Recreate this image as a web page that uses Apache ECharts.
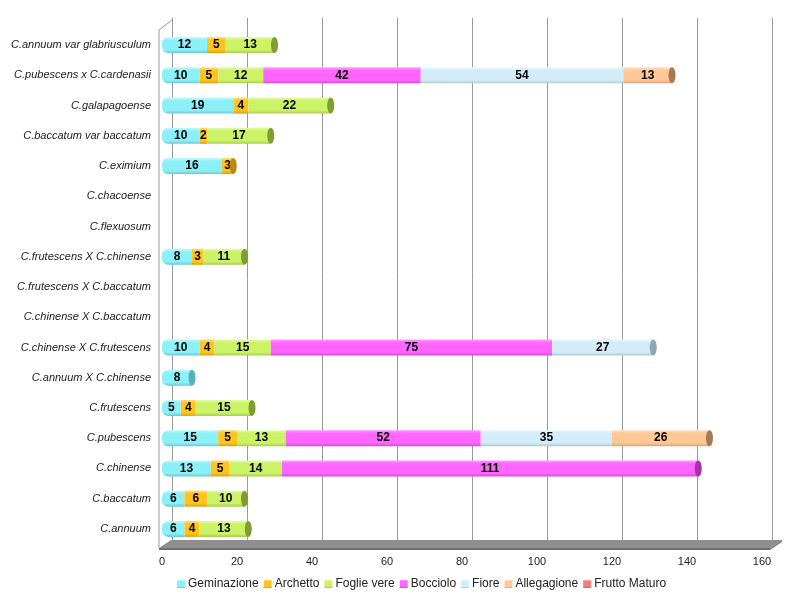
<!DOCTYPE html>
<html><head><meta charset="utf-8">
<script src="https://cdn.jsdelivr.net/npm/echarts@6/dist/echarts.min.js"></script>
<style>html,body{margin:0;padding:0;background:#fff}#c{width:789px;height:600px}</style>
</head><body><div id="c"></div>
<script>
const categories = ["C.annuum var glabriusculum","C.pubescens x C.cardenasii","C.galapagoense","C.baccatum var baccatum","C.eximium","C.chacoense","C.flexuosum","C.frutescens X C.chinense","C.frutescens X C.baccatum","C.chinense X C.baccatum","C.chinense X C.frutescens","C.annuum X C.chinense","C.frutescens","C.pubescens","C.chinense","C.baccatum","C.annuum"];
const seriesNames = ["Geminazione","Archetto","Foglie vere","Bocciolo","Fiore","Allegagione","Frutto Maturo"];
const geminazione = [12,10,19,10,16,null,null,8,null,null,10,8,5,15,13,6,6];
const archetto    = [5,5,4,2,3,null,null,3,null,null,4,null,4,5,5,6,4];
const foglieVere  = [13,12,22,17,null,null,null,11,null,null,15,null,15,13,14,10,13];
const bocciolo    = [null,42,null,null,null,null,null,null,null,null,75,null,null,52,111,null,null];
const fiore       = [null,54,null,null,null,null,null,null,null,null,27,null,null,35,null,null,null];
const allegagione = [null,13,null,null,null,null,null,null,null,null,null,null,null,26,null,null,null];
const fruttoMaturo= [null,null,null,null,null,null,null,null,null,null,null,null,null,null,null,null,null];
const xTicks = [0,20,40,60,80,100,120,140,160];

const allData = [geminazione,archetto,foglieVere,bocciolo,fiore,allegagione,fruttoMaturo];
const base  = ['#8CF0F8','#FFC420','#CCF266','#FF66FF','#D2ECF8','#FFC896','#F08080'];
const light = ['#C0FAFF','#FFDC70','#E4FCA8','#FF9CFF','#EAF7FF','#FFE0C0','#FFB0B0'];
const dark  = ['#6CC8D2','#D8A010','#A8CC50','#D848D8','#AFC8D6','#D8A478','#C86060'];
const capC  = ['#5AB0BA','#B88A10','#7E9E34','#A830A8','#90A6B2','#A47A58','#A04040'];

const grad = i => new echarts.graphic.LinearGradient(0,0,0,1,[
  {offset:0,color:light[i]},{offset:0.2,color:base[i]},{offset:0.8,color:base[i]},{offset:1,color:dark[i]}]);

const series = allData.map((d,i)=>({
  name: seriesNames[i], type:'bar', stack:'s', barWidth:16,
  xAxisIndex:0, yAxisIndex:0,
  data: d,
  itemStyle:{color:grad(i), borderRadius: i===0?[6,0,0,6]:0},
  label:{show:true, position:'inside', color:'#000', fontWeight:'bold', fontSize:12,
    fontFamily:'"Liberation Sans",Arial,sans-serif',
    formatter:p=> (p.value==null||p.value===0)?'':String(p.value)}
}));

const capData = [];
categories.forEach((c,k)=>{
  let tot=0,last=-1;
  allData.forEach((d,i)=>{ if(d[k]){tot+=d[k];last=i;} });
  if(last>=0) capData.push([tot,k,last]);
});
series.push({
  type:'custom', xAxisIndex:0, yAxisIndex:0, silent:true, z:3,
  data: capData,
  renderItem:(params,api)=>{
    const p = api.coord([api.value(0), api.value(1)]);
    return {type:'ellipse', shape:{cx:p[0], cy:p[1], rx:3.5, ry:8},
      style:{fill:capC[api.value(2)]}};
  }
});

const chart = echarts.init(document.getElementById('c'));
chart.setOption({
  animation:false,
  backgroundColor:'#fff',
  legend:{data:seriesNames, left:172, top:573, itemWidth:8, itemHeight:8, itemGap:5,
    icon:'rect', textStyle:{fontSize:12, color:'#222', fontFamily:'"Liberation Sans",Arial,sans-serif', padding:[0,0,0,-2]}},
  grid:[
    {left:162, right:27, top:30, bottom:56},
    {left:172, right:17, top:18, bottom:59}
  ],
  xAxis:[
    {gridIndex:0, type:'value', min:0, max:160, interval:20,
     axisLine:{show:false}, axisTick:{show:false}, splitLine:{show:false},
     axisLabel:{margin:12, fontSize:11, color:'#222', fontFamily:'"Liberation Sans",Arial,sans-serif'}},
    {gridIndex:1, type:'value', min:0, max:160, interval:20,
     axisLine:{show:false}, axisTick:{show:false}, axisLabel:{show:false},
     splitLine:{show:true, lineStyle:{color:'#9a9a9a', width:1}}}
  ],
  yAxis:[
    {gridIndex:0, type:'category', data:categories, inverse:true,
     axisLine:{show:false}, axisTick:{show:false},
     axisLabel:{margin:11, fontSize:11, fontStyle:'italic', color:'#222', fontFamily:'"Liberation Sans",Arial,sans-serif'}},
    {gridIndex:1, type:'category', data:categories, show:false}
  ],
  graphic:[
    {type:'polyline', z:-1, shape:{points:[[159,548],[159,30],[172,20]]}, style:{stroke:'#9a9a9a', lineWidth:1, fill:null}},
    {type:'polygon', z:-1, shape:{points:[[159,548],[171,540],[782,540],[770,548]]}, style:{fill:'#8e8e8e'}},
    {type:'rect', z:-1, shape:{x:159,y:548,width:611,height:2}, style:{fill:'#6e6e6e'}},
    {type:'polygon', z:-1, shape:{points:[[770,548],[782,540],[782,542],[770,550]]}, style:{fill:'#7e7e7e'}}
  ],
  series: series
});
</script></body></html>
